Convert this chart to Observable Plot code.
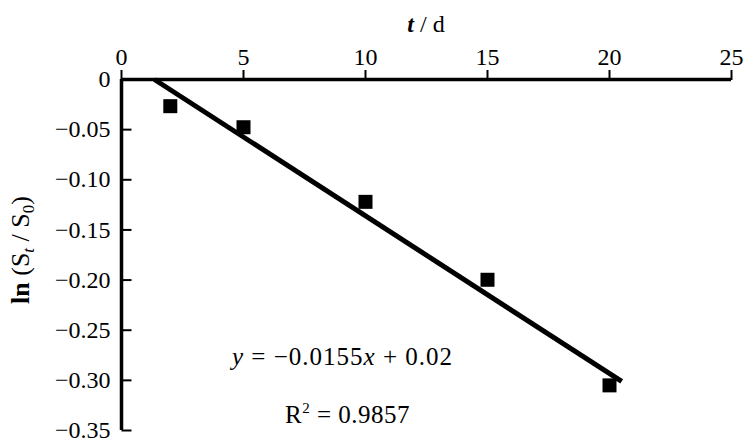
<!DOCTYPE html>
<html><head><meta charset="utf-8">
<script src="https://cdn.jsdelivr.net/npm/d3@7"></script>
<script src="https://cdn.jsdelivr.net/npm/@observablehq/plot@0.6"></script>
<style>body{margin:0;background:#fff}</style>
</head><body><div id="chart"></div>
<script>
// Data
const days = [2, 5, 10, 15, 20];
const lnRatio = [-0.0266, -0.0476, -0.122, -0.1997, -0.305];
const fitX = [1.35, 20.5];
const fitY = [0, -0.301];
const xTicks = [0, 5, 10, 15, 20, 25];
const yTicks = [0, -0.05, -0.10, -0.15, -0.20, -0.25, -0.30, -0.35];
const yTickLabels = ["0", "−0.05", "−0.10", "−0.15", "−0.20", "−0.25", "−0.30", "−0.35"];

const points = days.map((d, i) => ({t: d, v: lnRatio[i]}));
const fit = fitX.map((d, i) => ({t: d, v: fitY[i]}));
const labelOf = new Map(yTicks.map((d, i) => [d, yTickLabels[i]]));

const tickRight = {draw(ctx) { ctx.moveTo(0, 0); ctx.lineTo(10, 0); }};

const plot = Plot.plot({
  width: 755, height: 442,
  marginLeft: 121, marginRight: 24, marginTop: 79, marginBottom: 12,
  style: {fontFamily: "'Liberation Serif', serif", fontSize: "24px", color: "#000", background: "#fff"},
  x: {domain: [0, 25], axis: null},
  y: {domain: [-0.35, 0], axis: null},
  marks: [
    Plot.axisX(xTicks, {anchor: "top", label: null, tickSize: 10, tickPadding: 5, strokeWidth: 2, tickFormat: d => String(d), fontSize: 24}),
    Plot.axisY(yTicks, {anchor: "left", label: null, tickSize: 0, tickPadding: 11, tickFormat: d => labelOf.get(d), fontSize: 24}),
    Plot.dot(yTicks, {x: 0, y: d => d, symbol: tickRight, fill: "none", stroke: "#000", strokeWidth: 2}),
    Plot.ruleY([0], {stroke: "#000", strokeWidth: 3.5}),
    Plot.ruleX([0], {stroke: "#000", strokeWidth: 3.5}),
    Plot.line(fit, {x: "t", y: "v", stroke: "#000", strokeWidth: 5, strokeLinecap: "butt"}),
    Plot.dot(points, {x: "t", y: "v", symbol: "square", r: 7.9, fill: "#000", stroke: "none"})
  ]
});
document.getElementById("chart").append(plot);

const svg = d3.select(plot);
const xs = plot.scale("x");
// axis title
const tt = svg.append("text").attr("x", (xs.range[0] + xs.range[1]) / 2).attr("y", 32)
  .attr("text-anchor", "middle").attr("font-size", 24).attr("fill", "#000");
tt.append("tspan").attr("font-style", "italic").attr("font-weight", "bold").text("t");
tt.append("tspan").text(" / d");

// y title
const yl = svg.append("text").attr("transform", "translate(29,250) rotate(-90)")
  .attr("text-anchor", "middle").attr("font-size", 26).attr("fill", "#000");
yl.append("tspan").attr("font-weight", "bold").text("ln");
yl.append("tspan").text(" (S");
yl.append("tspan").attr("font-style", "italic").attr("font-size", 17).attr("dy", 5).text("t");
yl.append("tspan").attr("dy", -5).text(" / S");
yl.append("tspan").attr("font-size", 17).attr("dy", 5).text("0");
yl.append("tspan").attr("dy", -5).text(")");

// equation
const eq = svg.append("text").attr("x", 232).attr("y", 365).attr("text-anchor", "start")
  .attr("font-size", 25).attr("fill", "#000").style("letter-spacing", "1px");
eq.append("tspan").attr("font-style", "italic").text("y");
eq.append("tspan").text(" = −0.0155");
eq.append("tspan").attr("font-style", "italic").text("x");
eq.append("tspan").text(" + 0.02");

const r2 = svg.append("text").attr("x", 285).attr("y", 423).attr("text-anchor", "start")
  .attr("font-size", 25).attr("fill", "#000").style("letter-spacing", "0.5px");
r2.append("tspan").text("R");
r2.append("tspan").attr("font-size", 15).attr("dy", -10).text("2");
r2.append("tspan").attr("dy", 10).text(" = 0.9857");
</script>
</body></html>
